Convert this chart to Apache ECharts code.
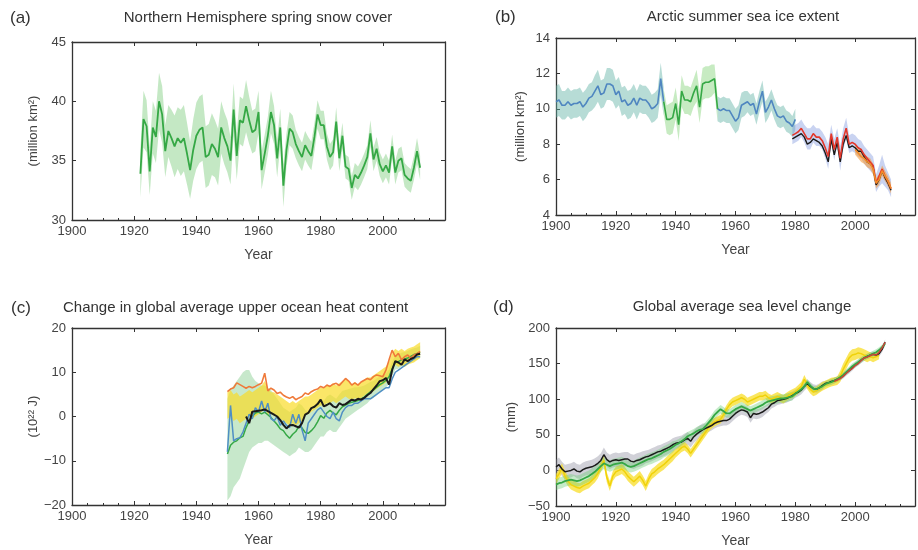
<!DOCTYPE html>
<html>
<head>
<meta charset="utf-8">
<title>Observed indicators</title>
<script src="https://cdn.jsdelivr.net/npm/echarts@6/dist/echarts.min.js"></script>
<style>
html, body { margin: 0; padding: 0; background: #fff; }
#chart { width: 918px; height: 550px; }
</style>
</head>
<body>
<div id="chart"></div>
<script>
// ---- (a) spring snow cover, 1922-2012
const snowStart = 1922
const snow = [
  33.9, 38.5, 37.9, 34.1, 37.8, 37.0, 40.0, 38.9, 35.8, 37.5,
  36.9, 36.2, 36.9, 36.5, 36.9, 35.6, 34.2, 35.9, 37.1, 37.6,
  37.8, 35.3, 35.5, 36.4, 36.0, 35.3, 37.8, 36.9, 36.2, 35.0,
  39.3, 35.4, 38.4, 38.2, 39.6, 38.4, 37.4, 37.6, 39.1, 34.2,
  35.6, 37.1, 39.1, 38.0, 35.2, 37.8, 32.9, 35.9, 37.7, 37.4,
  36.4, 35.8, 35.3, 36.3, 35.8, 35.4, 37.0, 38.9, 38.0, 38.0,
  36.2, 35.3, 35.7, 38.3, 35.2, 37.1, 34.5, 34.3, 32.7, 33.8,
  33.5, 34.0, 34.6, 35.3, 37.3, 35.1, 36.0, 34.7, 34.1, 34.6,
  34.0, 36.2, 34.0, 35.0, 35.2, 33.8, 33.5, 33.3, 34.4, 35.8,
  34.4
]
const snowErr = [
  2.0, 2.4, 2.2, 2.0, 2.2, 2.2, 2.4, 2.4, 2.2, 2.2,
  2.4, 2.6, 2.6, 2.8, 2.8, 2.6, 2.4, 2.6, 2.8, 2.8,
  2.8, 2.6, 2.6, 2.6, 2.4, 2.4, 2.2, 2.2, 2.2, 2.0,
  2.2, 2.0, 2.0, 2.0, 2.2, 2.0, 1.8, 1.8, 1.8, 1.6,
  1.6, 1.6, 1.8, 1.6, 1.6, 1.6, 1.8, 1.4, 1.4, 1.4,
  1.2, 1.2, 1.2, 1.2, 1.2, 1.2, 1.2, 1.2, 1.2, 1.2,
  1.1, 1.1, 1.1, 1.2, 1.1, 1.1, 1.0, 1.0, 1.0, 1.0,
  1.0, 1.0, 1.0, 1.0, 1.1, 1.0, 1.0, 1.0, 1.0, 1.0,
  1.0, 1.0, 1.0, 1.0, 1.0, 1.0, 1.0, 1.0, 1.0, 1.1,
  1.0
]

// ---- (b) Arctic summer sea ice
const iceBlueStart = 1900
const iceBlue = [
  10.4, 10.5, 10.2, 10.2, 10.4, 10.2, 10.3, 10.3, 10.4, 10.1,
  10.3, 10.6, 10.7, 11.0, 11.3, 10.8, 10.9, 11.4, 11.4, 11.3,
  10.8, 11.0, 10.4, 10.5, 10.2, 10.3, 10.6, 10.2, 10.6, 10.5,
  10.5, 10.3, 10.0, 10.1, 10.3, 11.7, 10.4,
  null, null, null, null, null, null, null, null, null, null, null, null, null, null, null, null, null,
  10.0, 9.9, 10.0, 9.9, 9.9, 9.6, 9.3, 9.5, 10.2, 10.3,
  10.4, 10.2, 10.3, 9.7, 10.4, 11.0, 9.8, 10.1, 10.5, 10.0,
  9.6, 9.5, 9.6, 9.3, 9.2, 9.0, 9.4
]
const iceBlueErr = [
  0.9, 0.9, 0.8, 0.8, 0.8, 0.8, 0.8, 0.8, 0.8, 0.8,
  0.8, 0.8, 0.8, 0.9, 0.9, 0.8, 0.8, 0.9, 0.9, 0.9,
  0.8, 0.8, 0.8, 0.8, 0.8, 0.8, 0.8, 0.8, 0.8, 0.8,
  0.8, 0.8, 0.8, 0.8, 0.8, 0.9, 0.8,
  null, null, null, null, null, null, null, null, null, null, null, null, null, null, null, null, null,
  0.7, 0.7, 0.7, 0.7, 0.7, 0.7, 0.7, 0.7, 0.7, 0.7,
  0.6, 0.6, 0.6, 0.6, 0.6, 0.6, 0.6, 0.6, 0.6, 0.6,
  0.6, 0.6, 0.6, 0.6, 0.6, 0.6, 0.6
]
const iceGreenStart = 1936
const iceGreen = [10.4, 9.4, 9.4, 9.5, 10.3, 9.1, 11.0, 10.5, 10.5, 10.4, 10.9, 11.3, 10.1, 11.4, 11.5, 11.5, 11.6, 11.7, 10.0]
const iceGreenErr = [0.7, 0.8, 0.9, 0.9, 0.9, 0.9, 0.9, 0.8, 0.8, 0.8, 0.8, 0.9, 0.9, 0.9, 0.9, 0.9, 0.9, 0.8, 0.7]
const iceSatStart = 1979
const iceRed = [
  8.5, 8.6, 8.7, 8.9, 8.6, 8.3, 8.3, 8.6, 8.4, 8.4,
  8.2, 7.8, 7.3, 8.6, 7.7, 8.4, 7.2, 8.3, 8.9, 8.0,
  8.1, 8.0, 7.8, 7.7, 7.4, 7.2, 7.0, 6.8, 5.8, 6.2,
  6.6, 6.2, 5.9, 5.5
]
const iceBlack = [
  8.3, 8.4, 8.5, 8.6, 8.4, 8.0, 8.1, 8.3, 8.2, 8.1,
  7.9, 7.5, 7.0, 8.3, 7.4, 8.1, 7.0, 8.0, 8.5, 7.8,
  7.9, 7.8, 7.6, 7.6, 7.3, 7.0, 6.9, 6.7, 5.7, 6.0,
  6.5, 6.1, 5.8, 5.4
]
const iceSatErr = [
  0.5, 0.5, 0.5, 0.5, 0.5, 0.6, 0.6, 0.5, 0.5, 0.5,
  0.5, 0.6, 0.7, 0.5, 0.6, 0.5, 0.7, 0.6, 0.6, 0.5,
  0.5, 0.5, 0.5, 0.5, 0.5, 0.5, 0.5, 0.5, 0.5, 0.6,
  0.8, 0.6, 0.5, 0.5
]
const iceOrangeStart = 2000
const iceOrange = [7.7, 7.5, 7.3, 7.2, 7.0, 6.9, 6.6, 5.8, 6.0, 6.5, 6.2, 5.9, 5.5]
const iceOrangeErr = [0.3, 0.3, 0.3, 0.3, 0.3, 0.3, 0.3, 0.3, 0.3, 0.3, 0.3, 0.3, 0.3]

// ---- (c) upper ocean heat content, 1950-2012
const ohcStart = 1950
const ohcOrange = [
  5.6, 6.2, 6.5, 7.6, 7.2, 6.8, 6.4, 6.8, 6.5, 6.8,
  7.2, 7.5, 9.8, 5.8, 6.4, 6.0, 5.2, 5.5, 4.8, 4.4,
  4.1, 4.5, 3.8, 4.2, 4.5, 5.3, 5.0, 5.6, 6.0, 6.2,
  6.8, 6.5, 7.1, 6.8, 7.3, 7.5, 7.0, 7.8, 8.6, 8.0,
  7.1, 7.6, 7.1, 7.8, 8.2, 8.6, 8.3, 9.0, 9.4, 9.2,
  9.0, 10.5, 12.8, 15.0, 13.5, 14.3, 12.8, 13.5, 13.9, 13.2,
  13.9, 14.2, 14.7
]
const ohcBlue = [
  -8.0, 2.5, -5.5, -5.0, -4.8, -3.5, -1.5, 0.5, -0.5, 2.0,
  1.0, 3.5, 1.0, 3.0, -0.5, -1.0, 0.0, -2.0, -1.0, -2.0,
  -2.5, 0.5, -1.5, 0.5, -3.0, -5.5, -1.5, -0.5, 0.5, 1.5,
  2.0, 1.0, 0.0, -0.5, 1.0, -0.5, -1.0, 1.0, 2.0, 2.5,
  2.5, 3.0, 3.0, 3.5, 4.0, 4.0, 4.0, 4.5, 5.0, 5.5,
  6.0, 6.5, 6.5, 8.5, 10.0, 10.5, 11.0, 11.5, 12.0, 12.5,
  13.0, 13.5, 13.5
]
const ohcGreen = [
  -8.5, -6.5, -5.8, -5.5, -4.8, -4.5, -2.5, -1.0, 0.0, 0.8,
  1.0, 0.6, 1.0, 0.4, -0.2, -1.0, -1.8, -2.8, -3.2, -4.2,
  -4.9, -4.0, -3.4, -2.2, -2.6, -3.6, -3.8, -3.2, -2.4, -1.2,
  0.2, -0.4, 0.8, 1.4, 0.8, 0.4, 1.4, 2.2, 2.6, 3.0,
  3.2, 3.4, 3.6, 4.0, 4.4, 5.0, 5.6, 6.0, 6.6, 7.2,
  7.6, 8.2, 9.0, 10.8, 12.2, 12.4, 12.8, 13.0, 13.2, 13.6,
  14.0, 14.2, 14.6
]
const ohcGreenLo = [
  -19, -18, -16, -15, -14, -12, -10, -8, -7, -6.5,
  -6, -6, -5.5, -5.5, -6, -6.5, -7, -7.5, -8, -8.5,
  -9, -8.5, -8, -7, -7.5, -8, -8, -7.5, -6.5, -5.5,
  -4.5, -4.5, -3.5, -3, -3.5, -3.5, -2.5, -1.5, -0.5, 0,
  0.5, 1, 1.5, 2, 2.5, 3, 3.8, 4.2, 4.8, 5.5,
  6, 6.5, 7.4, 9.2, 10.6, 10.8, 11.3, 11.5, 11.8, 12.2,
  12.6, 12.8, 13.2
]
const ohcGreenHi = [
  4, 6, 7, 8, 9, 10, 10.5, 10.5, 9, 8,
  7.5, 7, 7, 6.5, 6, 5, 4, 3, 2, 1.5,
  1, 1.5, 2, 3, 2.5, 1.5, 1, 1, 2, 3,
  4, 3.5, 4.5, 5, 4.5, 4, 5, 5.8, 6, 6.2,
  6.4, 6.6, 6.6, 6.8, 7, 7.4, 7.8, 8, 8.6, 9,
  9.2, 9.8, 10.6, 12.4, 13.8, 14, 14.4, 14.6, 14.8, 15.2,
  15.4, 15.6, 16
]
const ohcYellow = [
  2.5, 3.0, 2.0, 2.5, 1.5, 2.0, 2.5, 3.0, 2.5, 3.0,
  3.5, 4.0, 5.0, 3.5, 3.0, 3.0, 2.5, 2.0, 1.5, 1.0,
  0.5, 1.0, 0.5, 1.0, 1.5, 2.5, 2.5, 3.0, 3.5, 4.0,
  4.5, 4.5, 5.0, 5.0, 5.5, 5.0, 5.5, 6.0, 6.5, 6.0,
  5.5, 6.0, 5.5, 6.0, 6.5, 7.0, 7.0, 7.5, 8.0, 8.5,
  9.0, 9.5, 10.5, 12.5, 13.5, 13.0, 13.5, 13.0, 13.5, 13.8,
  14.0, 14.5, 15.0
]
const ohcYellowErr = [
  3, 3, 3, 3, 3, 3, 3, 3, 3, 3,
  3, 3, 3, 3, 2.5, 2.5, 2.5, 2.5, 2.5, 2.5,
  2.5, 2.5, 2.5, 2.5, 2.5, 2, 2, 2, 2, 2,
  2, 2, 2, 2, 2, 2, 2, 2, 2, 2,
  1.8, 1.8, 1.8, 1.8, 1.8, 1.8, 1.8, 1.8, 1.8, 1.8,
  1.8, 1.8, 1.8, 1.8, 1.8, 1.8, 1.8, 1.8, 1.8, 1.8,
  1.8, 1.8, 1.8
]
const ohcBlackStart = 1956
const ohcBlack = [
  0.0, -1.5, 1.1, 1.2, 1.3, 1.4, 1.6, 1.2, 0.8, 0.4,
  0.0, -0.8, -1.9, -2.7, -2.0, -1.9, -2.2, -2.5, -1.5, 0.4,
  0.8, 1.9, 2.2, 2.8, 3.8, 2.3, 2.6, 3.0, 2.3, 2.0,
  3.0, 2.6, 2.8, 3.3, 3.8, 3.6, 4.0, 3.8, 4.2, 4.8,
  5.3, 6.2, 7.0, 8.0, 8.2, 8.7, 7.2, 10.5, 12.5, 12.2,
  11.7, 12.9, 12.5, 13.0, 13.3, 14.0, 14.2
]

// ---- (d) global mean sea level, 1900-2010
const slStart = 1900
const slBlack = [
  5, 8, 2, -2, -1, 0, 2, -1, -2, 1,
  3, 4, 5, 7, 10, 14, 22, 15, 12, 14,
  15, 14, 15, 16, 16, 13, 12, 14, 15, 17,
  19, 20, 22, 24, 26, 27, 29, 31, 33, 36,
  38, 39, 40, 43, 45, 41, 47, 51, 54, 57,
  59, 61, 63, 66, 68, 69, 70, 70, 72, 76,
  80, 83, 85, 84, 82, 74, 80, 79, 80, 82,
  85, 88, 93, 95, 98, 99, 100, 101, 103, 105,
  108, 110, 113, 118, 122, 118, 115, 114, 116, 119,
  122, 123, 125, 126, 128, 130, 133, 137, 140, 144,
  148, 151, 155, 158, 160, 162, 163, 162, 164, 170,
  180
]
const slBlackErr = [
  10, 10, 10, 10, 10, 10, 10, 10, 10, 10,
  10, 10, 10, 10, 10, 10, 10, 10, 10, 10,
  10, 10, 10, 10, 10, 10, 10, 10, 10, 10,
  9, 9, 9, 9, 9, 9, 9, 9, 9, 9,
  9, 9, 9, 9, 9, 9, 9, 9, 9, 9,
  7, 7, 7, 7, 7, 7, 7, 7, 7, 7,
  7, 7, 7, 7, 7, 7, 7, 7, 7, 7,
  6, 6, 6, 6, 6, 6, 6, 6, 6, 6,
  6, 6, 6, 6, 6, 6, 6, 6, 6, 6,
  4, 4, 4, 4, 4, 4, 4, 4, 4, 4,
  4, 4, 4, 4, 4, 4, 4, 4, 4, 4,
  4
]
const slGreen = [
  -20, -18, -17, -15, -14, -13, -14, -15, -14, -12,
  -10, -8, -5, -2, 2, 6, 10, 8, 6, 8,
  9, 10, 11, 9, 6, 5, 6, 8, 10, 12,
  14, 16, 17, 19, 21, 23, 26, 28, 30, 33,
  36, 38, 41, 44, 48, 50, 52, 55, 57, 58,
  62, 67, 72, 78, 82, 86, 83, 80, 80, 83,
  86, 88, 90, 88, 86, 84, 86, 88, 90, 92,
  95, 97, 98, 99, 100, 101, 101, 102, 103, 104,
  108, 111, 114, 118, 124, 119, 115, 114, 116, 118,
  121, 123, 124, 126, 128, 131, 134, 138, 142, 146,
  149, 152, 155, 158, 160, 162, 164, 166, 169, 173,
  178
]
const slGreenErr = [
  8, 8, 8, 8, 8, 8, 8, 8, 8, 8,
  8, 8, 8, 8, 8, 8, 8, 8, 8, 8,
  8, 8, 8, 8, 8, 8, 8, 8, 8, 8,
  8, 8, 8, 8, 8, 8, 8, 8, 8, 8,
  6, 6, 6, 6, 6, 6, 6, 6, 6, 6,
  6, 6, 6, 6, 6, 6, 6, 6, 6, 6,
  6, 6, 6, 6, 6, 6, 6, 6, 6, 6,
  6, 6, 6, 6, 6, 6, 6, 6, 6, 6,
  4, 4, 4, 4, 4, 4, 4, 4, 4, 4,
  4, 4, 4, 4, 4, 4, 4, 4, 4, 4,
  4, 4, 4, 4, 4, 4, 4, 4, 4, 4,
  4
]
const slYellow = [
  -12, -5, 3, -8, -15, -20, -22, -24, -25, -22,
  -20, -18, -14, -10, -4, 5, 14, -10, -22, -8,
  -2, 0, 2, -2, -8, -12, -16, -12, -8, -14,
  -22, -12, -5, -2, 2, 5, 8, 12, 16, 20,
  24, 28, 32, 34, 30, 24, 30, 36, 42, 48,
  54, 60, 65, 68, 70, 72, 78, 86, 92, 96,
  98, 100, 102, 100, 96, 98, 100, 102, 104, 104,
  106, 102, 100, 102, 104, 102, 100, 103, 106, 108,
  110, 114, 118, 128, 120, 114, 110, 112, 115, 118,
  120, 122, 124, 125, 126, 132, 142, 150, 158, 162,
  163, 165, 164, 162, 160, 160, 158, 160, 162
]
const slYellowErr = [
  7, 7, 7, 7, 7, 7, 7, 7, 7, 7,
  7, 7, 7, 7, 7, 7, 7, 7, 7, 7,
  7, 7, 7, 7, 7, 7, 7, 7, 7, 7,
  7, 7, 7, 7, 7, 7, 7, 7, 7, 7,
  6, 6, 6, 6, 6, 6, 6, 6, 6, 6,
  6, 6, 6, 6, 6, 6, 6, 6, 6, 6,
  6, 6, 6, 6, 6, 6, 6, 6, 6, 6,
  6, 6, 6, 6, 6, 6, 6, 6, 6, 6,
  6, 6, 6, 6, 6, 6, 6, 6, 6, 6,
  6, 6, 6, 6, 6, 8, 8, 8, 8, 8,
  8, 8, 8, 8, 8, 6, 6, 6, 6
]
const slRedStart = 1993
const slRed = [125, 127, 129, 132, 136, 140, 143, 147, 150, 154, 158, 159, 161, 163, 162, 166, 172, 180]

// ---- layout
const panels = [
  { left: 72, top: 42, width: 373, height: 178, ymin: 30, ymax: 45, step: 5, yname: '(million km²)', ygap: 32 },
  { left: 556, top: 38, width: 372, height: 177, ymin: 4, ymax: 14, step: 2, yname: '(million km²)', ygap: 29 },
  { left: 72, top: 328, width: 373, height: 177, ymin: -20, ymax: 20, step: 10, yname: '(10²² J)', ygap: 32 },
  { left: 556, top: 328, width: 372, height: 178, ymin: -50, ymax: 200, step: 50, yname: '(mm)', ygap: 38 }
]

const FONT = 'Liberation Sans, Arial, Helvetica, sans-serif'
const AXIS_COLOR = '#333'
const LABEL_COLOR = '#444'

function pairs (start, vals) {
  return vals.map((v, i) => [start + i, v])
}

function line (g, start, vals, color, width, z) {
  return {
    type: 'line',
    xAxisIndex: 2 * g,
    yAxisIndex: 2 * g,
    data: pairs(start, vals),
    symbol: 'none',
    silent: true,
    lineStyle: { color: color, width: width },
    z: z
  }
}

// shaded range between lo and hi, drawn as one polygon per unbroken run
function band (g, start, lo, hi, color) {
  return {
    type: 'custom',
    coordinateSystem: 'cartesian2d',
    xAxisIndex: 2 * g,
    yAxisIndex: 2 * g,
    data: lo.map((v, i) => [start + i, v, hi[i]]),
    encode: { x: 0, y: [1, 2] },
    silent: true,
    z: 1,
    renderItem: function (params, api) {
      if (params.dataIndexInside !== 0) return null
      const runs = []
      let cur = null
      for (let i = 0; i < params.dataInsideLength; i++) {
        const x = api.value(0, i)
        const a = api.value(1, i)
        const b = api.value(2, i)
        if (a == null || b == null || isNaN(a) || isNaN(b)) { cur = null; continue }
        if (!cur) { cur = { top: [], bot: [] }; runs.push(cur) }
        cur.top.push(api.coord([x, b]))
        cur.bot.push(api.coord([x, a]))
      }
      return {
        type: 'group',
        children: runs.map(r => ({
          type: 'polygon',
          shape: { points: r.top.concat(r.bot.reverse()) },
          style: { fill: color }
        }))
      }
    }
  }
}

function around (c, err, sign) {
  return c.map((v, i) => (v == null || err[i] == null) ? null : +(v + sign * err[i]).toFixed(3))
}

function fmtNum (v) {
  return v < 0 ? '\u2212' + Math.abs(v) : String(v)
}

const grids = []
const xAxes = []
const yAxes = []
panels.forEach(function (p, g) {
  grids.push({ left: p.left, top: p.top, width: p.width, height: p.height, show: false })
  const axLine = { show: true, onZero: false, lineStyle: { color: AXIS_COLOR, width: 1.3 } }
  xAxes.push({
    type: 'value', gridIndex: g, position: 'bottom', min: 1900, max: 2020, interval: 20,
    name: 'Year', nameLocation: 'middle', nameGap: 28,
    nameTextStyle: { color: LABEL_COLOR, fontSize: 14, fontFamily: FONT },
    axisLine: axLine,
    axisTick: { inside: true, length: 4, lineStyle: { color: AXIS_COLOR } },
    minorTick: { show: true, splitNumber: 4, length: 2, lineStyle: { color: AXIS_COLOR } },
    axisLabel: { color: LABEL_COLOR, fontSize: 13, fontFamily: FONT, margin: 5, formatter: v => v === 2020 ? '' : String(v) },
    splitLine: { show: false }
  })
  xAxes.push({
    type: 'value', gridIndex: g, position: 'top', min: 1900, max: 2020, interval: 20,
    axisLine: axLine,
    axisTick: { inside: true, length: 4, lineStyle: { color: AXIS_COLOR } },
    axisLabel: { show: false },
    splitLine: { show: false }
  })
  yAxes.push({
    type: 'value', gridIndex: g, position: 'left', min: p.ymin, max: p.ymax, interval: p.step,
    name: p.yname, nameLocation: 'middle', nameGap: p.ygap,
    nameTextStyle: { color: LABEL_COLOR, fontSize: 13, fontFamily: FONT },
    axisLine: axLine,
    axisTick: { inside: true, length: 4, lineStyle: { color: AXIS_COLOR } },
    axisLabel: { color: LABEL_COLOR, fontSize: 13, fontFamily: FONT, margin: 6, formatter: fmtNum },
    splitLine: { show: false }
  })
  yAxes.push({
    type: 'value', gridIndex: g, position: 'right', min: p.ymin, max: p.ymax, interval: p.step,
    axisLine: axLine,
    axisTick: { inside: true, length: 4, lineStyle: { color: AXIS_COLOR } },
    axisLabel: { show: false },
    splitLine: { show: false }
  })
})

const GREEN = '#35a845'
const series = [
  // (a)
  band(0, snowStart, around(snow, snowErr, -1), around(snow, snowErr, 1), 'rgba(125,205,125,0.45)'),
  line(0, snowStart, snow, GREEN, 1.8, 3),
  // (b)
  band(1, iceBlueStart, around(iceBlue, iceBlueErr, -1), around(iceBlue, iceBlueErr, 1), 'rgba(95,178,165,0.45)'),
  band(1, iceGreenStart, around(iceGreen, iceGreenErr, -1), around(iceGreen, iceGreenErr, 1), 'rgba(130,210,120,0.45)'),
  band(1, iceSatStart, around(iceRed, iceSatErr, -1), around(iceRed, iceSatErr, 1), 'rgba(120,145,220,0.4)'),
  band(1, iceOrangeStart, around(iceOrange, iceOrangeErr, -1), around(iceOrange, iceOrangeErr, 1), 'rgba(245,150,50,0.55)'),
  line(1, iceBlueStart, iceBlue, '#4f86c0', 1.6, 3),
  line(1, iceGreenStart, iceGreen, GREEN, 1.6, 3),
  line(1, iceSatStart, iceBlack, '#1a1a1a', 1.4, 3),
  line(1, iceSatStart, iceRed, '#e2372b', 1.6, 4),
  line(1, iceOrangeStart, iceOrange, '#f28c28', 1.6, 5),
  // (c)
  band(2, ohcStart, ohcGreenLo, ohcGreenHi, 'rgba(130,205,140,0.45)'),
  band(2, ohcStart, around(ohcYellow, ohcYellowErr, -1), around(ohcYellow, ohcYellowErr, 1), 'rgba(250,220,40,0.7)'),
  line(2, ohcStart, ohcGreen, GREEN, 1.5, 3),
  line(2, ohcStart, ohcBlue, '#4f8fc4', 1.5, 3),
  line(2, ohcStart, ohcOrange, '#ef7a3a', 1.6, 4),
  line(2, ohcBlackStart, ohcBlack, '#1a1a1a', 2, 5),
  // (d)
  band(3, slStart, around(slBlack, slBlackErr, -1), around(slBlack, slBlackErr, 1), 'rgba(140,140,158,0.4)'),
  band(3, slStart, around(slYellow, slYellowErr, -1), around(slYellow, slYellowErr, 1), 'rgba(248,222,40,0.75)'),
  band(3, slStart, around(slGreen, slGreenErr, -1), around(slGreen, slGreenErr, 1), 'rgba(110,205,120,0.4)'),
  line(3, slStart, slYellow, '#f0d20a', 1.5, 3),
  line(3, slStart, slBlack, '#1a1a1a', 1.5, 3),
  line(3, slStart, slGreen, GREEN, 1.8, 4),
  line(3, slRedStart, slRed, '#c8453a', 1.5, 5)
]

function label (x, y, text, size, align) {
  return {
    type: 'text', x: x, y: y, silent: true,
    style: { text: text, fill: '#333', fontSize: size, fontFamily: FONT, textAlign: align, textVerticalAlign: 'middle' }
  }
}

const chart = echarts.init(document.getElementById('chart'))
chart.setOption({
  animation: false,
  textStyle: { fontFamily: FONT },
  grid: grids,
  xAxis: xAxes,
  yAxis: yAxes,
  series: series,
  graphic: [
    label(10, 18, '(a)', 17, 'left'),
    label(258, 18, 'Northern Hemisphere spring snow cover', 15, 'center'),
    label(495, 17, '(b)', 17, 'left'),
    label(743, 17, 'Arctic summer sea ice extent', 15, 'center'),
    label(11, 308, '(c)', 17, 'left'),
    label(63, 308, 'Change in global average upper ocean heat content', 15, 'left'),
    label(493, 307, '(d)', 17, 'left'),
    label(742, 307, 'Global average sea level change', 15, 'center')
  ]
})
</script>
</body>
</html>
